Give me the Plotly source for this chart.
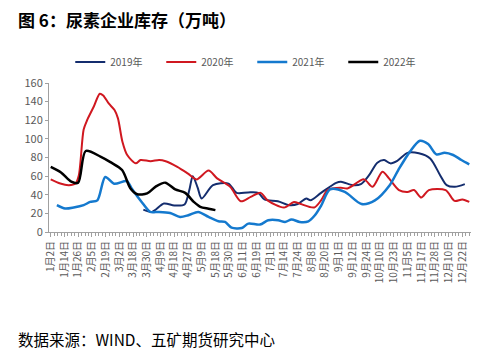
import plotly.graph_objects as go

# category tick labels (every 4th category of a 123-category axis)
tick_labels = ["1月2日", "1月14日", "1月26日", "2月5日", "2月19日", "3月2日", "3月18日", "3月30日",
               "4月9日", "4月18日", "4月27日", "5月9日", "5月18日", "5月30日", "6月11日", "6月19日",
               "7月1日", "7月14日", "7月24日", "8月8日", "8月20日", "9月1日", "9月12日", "9月24日",
               "10月10日", "10月23日", "11月5日", "11月17日", "11月28日", "12月10日", "12月22日"]
tick_pos = [i * 4 for i in range(len(tick_labels))]
n_categories = 123

# 2019
x2019 = [27, 29.5, 33, 36, 39, 40.4, 41.4, 42.8, 44, 47.3, 51.8, 54.2, 57.5, 60.5, 62.3, 66.2, 69.6,
         72, 74.5, 75.7, 78.8, 83.2, 84.6, 88, 90.4, 92.8, 95.2, 97.2, 99, 101, 104, 107.3, 110.6,
         113.5, 115.4, 117.8, 120.7]
y2019 = [24, 21.5, 30.5, 28.5, 29.5, 45, 60, 48, 36, 50.3, 52, 42, 42.5, 42, 35, 33, 28.8,
         30, 36, 34, 42, 52.8, 54, 50.3, 51.4, 61, 74.4, 77.3, 73.7, 76.5, 85, 84.5, 79,
         61, 50.3, 48.5, 51.4]

# 2020
x2020 = [0, 2.8, 5.3, 7.2, 8.2, 9.6, 10.6, 12.6, 14.3, 15.3, 16.9, 18.6, 19.6, 20.9, 22.3, 24.8,
         26.2, 29.1, 31.6, 33.5, 36.9, 39.9, 42.5, 46, 48.5, 52.3, 55.4, 58.3, 61.2, 63.2, 68, 70.9,
         72.9, 76.8, 78.8, 80.7, 84.5, 86.5, 91.3, 93.8, 96.7, 98.6, 101.5, 104, 105.9, 108, 110.2,
         115.1, 117.7, 120, 122]
y2020 = [56.5, 52, 50.3, 52, 61, 110, 120, 135, 148.5, 146.6, 138, 131, 122, 97, 82.7, 73.7,
         77.3, 76, 77.3, 76, 70, 63, 56.5, 66, 57.6, 48.5, 33, 37.7, 42, 34, 26.3, 32.3,
         30, 26.3, 34, 45, 47.5, 46.8, 56.5, 48.5, 64.7, 57.6, 45, 43, 45, 37, 45,
         45, 33.4, 35, 32.3]

# 2021
x2021 = [1.8, 4.2, 6.7, 9.6, 11.5, 13.6, 15.9, 18.5, 22.2, 23.6, 26.5, 29, 31.4, 34.8, 37.7, 40.1,
         43, 46, 48.9, 50.8, 52.7, 55.7, 57.6, 61, 63.4, 66.3, 68.3, 70.2, 72.6, 75.1, 77, 78.9,
         81.4, 85.7, 90.6, 94.5, 98.8, 101.3, 104.7, 107.6, 110, 112.4, 114.8, 117.3, 119.7, 122]
y2021 = [28.8, 25.2, 26.3, 28.8, 32.3, 34, 59, 51.8, 54.7, 46.8, 32.3, 21.6, 21.6, 20.5, 16.2, 18,
         21.6, 16.2, 11.5, 10.8, 4.7, 4.3, 9, 8, 12.6, 12.6, 10.8, 13.4, 10.8, 11.5, 18, 28.8,
         45.7, 43, 30, 34, 50.3, 66.5, 86.3, 98, 94.5, 83.4, 85, 82.7, 77.3, 72.7]

# 2022
x2022 = [0, 3, 6, 8, 10.2, 14.5, 17.4, 20.8, 23.2, 25.2, 28.1, 30.5, 33.4, 36.3, 39.2, 41.7, 43.6,
         46, 48]
y2022 = [70, 64, 54, 53, 87, 81, 75, 66.5, 47, 40.6, 41.4, 48.5, 53, 45.7, 42, 32.3, 27,
         25, 23.5]

series = [
    ("2019年", x2019, y2019, "#142D6E", 2),
    ("2020年", x2020, y2020, "#D01820", 2),
    ("2021年", x2021, y2021, "#1479CE", 2.5),
    ("2022年", x2022, y2022, "#000000", 2.5),
]

fig = go.Figure()
for name, xs, ys, color, w in series:
    fig.add_trace(go.Scatter(x=xs, y=ys, name=name, mode="lines",
                             line=dict(color=color, width=w, shape="spline", smoothing=0.8)))

axis_gray = "#A0A0A0"
label_gray = "#595959"
font_family = "Noto Sans CJK SC, Noto Sans, sans-serif"

# the page body adds an 8px offset, so the figure is laid out 8px up/left
OFF = 8
W, H = 482 - OFF, 362 - OFF
ML, MR, MT, MB = 48.5 - OFF, 11, 83 - OFF, 362 - 231.7
plot_w = W - ML - MR
plot_h = H - MT - MB


def px_to_paper_x(px):
    return (px - OFF - ML) / plot_w


def py_to_paper_y(py):
    return (H - MB - (py - OFF)) / plot_h


fig.update_layout(
    width=W, height=H,
    margin=dict(l=ML, r=MR, t=MT, b=MB, autoexpand=False),
    paper_bgcolor="white", plot_bgcolor="white",
    font=dict(family=font_family, color=label_gray),
    showlegend=True,
    legend=dict(orientation="h", x=px_to_paper_x(252), xanchor="center",
                y=py_to_paper_y(62), yanchor="middle",
                font=dict(size=10, color=label_gray),
                itemwidth=30, entrywidth=46, entrywidthmode="pixels"),
    xaxis=dict(range=[-0.5, n_categories - 0.5], tickmode="array", tickvals=tick_pos,
               ticktext=tick_labels, tickangle=-90, tickfont=dict(size=10, color=label_gray),
               showgrid=False, zeroline=False, showline=True, linecolor=axis_gray, linewidth=1,
               ticks="outside", ticklen=4, tickcolor=axis_gray, automargin=False,
               minor=dict(ticks="outside", tick0=0, dtick=1, ticklen=3, tickcolor=axis_gray)),
    yaxis=dict(range=[0, 160], dtick=20, tickfont=dict(size=11, color=label_gray),
               showgrid=False, zeroline=False, showline=True, linecolor=axis_gray, linewidth=1,
               ticks="outside", ticklen=3, tickcolor=axis_gray, automargin=False),
    annotations=[
        dict(text="<b>图 6：尿素企业库存（万吨）</b>", xref="paper", yref="paper",
             x=px_to_paper_x(15), y=py_to_paper_y(20), xanchor="left", yanchor="middle",
             showarrow=False, font=dict(size=17, color="#000000", family=font_family)),
        dict(text="数据来源：WIND、五矿期货研究中心", xref="paper", yref="paper",
             x=px_to_paper_x(15), y=py_to_paper_y(338), xanchor="left", yanchor="middle",
             showarrow=False, font=dict(size=15.5, color="#000000", family=font_family)),
    ],
)

fig.write_html("out.html")
